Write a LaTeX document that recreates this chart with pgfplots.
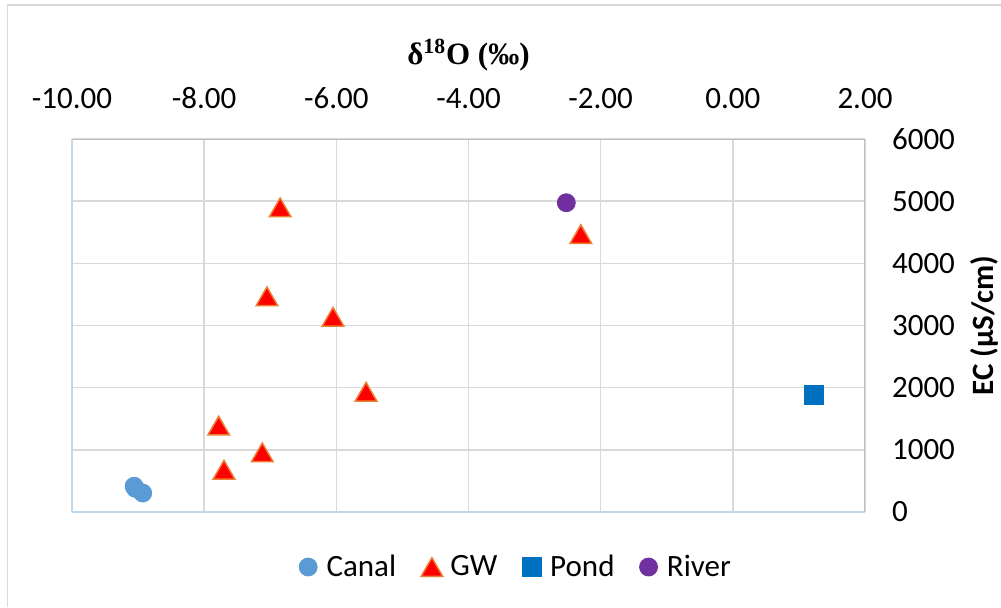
\documentclass[border=0pt]{standalone}
\usepackage{fontspec}
\setmainfont{Carlito}
\newfontfamily\titlefont{Liberation Serif}
\usepackage{pgfplots}
\pgfplotsset{compat=1.18}
\definecolor{canal}{HTML}{5B9BD5}
\definecolor{gwfill}{HTML}{FF0000}
\definecolor{gwedge}{HTML}{ED7D31}
\definecolor{pond}{HTML}{0070C0}
\definecolor{river}{HTML}{7030A0}
\definecolor{gridgray}{HTML}{D9D9D9}
\definecolor{boxgray}{HTML}{BFBFBF}
\definecolor{axblue}{HTML}{BDD7EE}
\definecolor{outer}{HTML}{D9D9D9}
\begin{document}
\begin{tikzpicture}[font=\fontsize{15.5}{18}\selectfont]
\path[use as bounding box] (-36pt,-47.5pt) rectangle (464.5pt,256pt);
\draw[outer, line width=0.7pt] (-32.25pt,-47.5pt) -- (-32.25pt,253.5pt) -- (464.5pt,253.5pt);
\begin{axis}[
  at={(0pt,0pt)}, anchor=south west,
  scale only axis, width=396.5pt, height=186.5pt,
  xmin=-10, xmax=2, ymin=0, ymax=6000,
  xtick={-10,-8,-6,-4,-2,0,2},
  xticklabels={-10.00,-8.00,-6.00,-4.00,-2.00,0.00,2.00},
  ytick={0,1000,2000,3000,4000,5000,6000},
  yticklabels={0,1000,2000,3000,4000,5000,6000},
  xticklabel pos=upper, yticklabel pos=right,
  major tick length=0pt,
  grid=major, major grid style={color=gridgray, line width=0.7pt},
  axis line style={draw=none},
  xticklabel style={anchor=base, yshift=15.5pt},
  yticklabel style={anchor=west, xshift=10pt},
  xlabel={\titlefont\bfseries δ\textsuperscript{18}O (‰)},
  every axis x label/.style={at={(rel axis cs:0.5,1)}, anchor=base, yshift=37.5pt},
  ylabel={\bfseries EC (µS/cm)},
  every axis y label/.style={at={(rel axis cs:1,0.5)}, xshift=59.5pt, rotate=90, anchor=center},
  legend columns=4,
  legend style={at={(0.5,0)}, anchor=center, xshift=24.25pt, yshift=-27.5pt, draw=none, fill=none,
    /tikz/every even column/.append style={column sep=10.5pt}},
  legend cell align=left,
  legend image code/.code={\path (0pt,0pt) (11pt,0pt); \draw[mark repeat=2,mark phase=2,#1] plot coordinates {(0pt,0pt)(4pt,0pt)(8pt,0pt)};},
]
\addplot[only marks, mark=*, mark size=4.5pt, mark options={draw=canal, fill=canal}] coordinates {
(-9.06,415) (-9.04,380) (-8.93,305)};
\addlegendentry{Canal}
\addplot[only marks, mark=triangle*, mark size=6.2pt, mark options={draw=gwedge, fill=gwfill, line width=0.75pt, yshift=-1.55pt}] coordinates {
(-6.85,4900) (-7.05,3470) (-6.05,3140) (-5.55,1935) (-7.78,1390) (-7.12,960) (-7.70,680) (-2.30,4470)};
\addlegendentry{GW}
\addplot[only marks, mark=square*, mark size=4.75pt, mark options={draw=pond, fill=pond}] coordinates {
(1.23,1880)};
\addlegendentry{Pond}
\addplot[only marks, mark=*, mark size=4.5pt, mark options={draw=river, fill=river}] coordinates {
(-2.52,4975)};
\addlegendentry{River}
\draw[boxgray, line width=0.7pt] (rel axis cs:0,1) -- (rel axis cs:1,1) -- (rel axis cs:1,0);
\draw[axblue, line width=0.7pt] (rel axis cs:0,1) -- (rel axis cs:0,0) -- (rel axis cs:1,0);
\end{axis}
\end{tikzpicture}
\end{document}
